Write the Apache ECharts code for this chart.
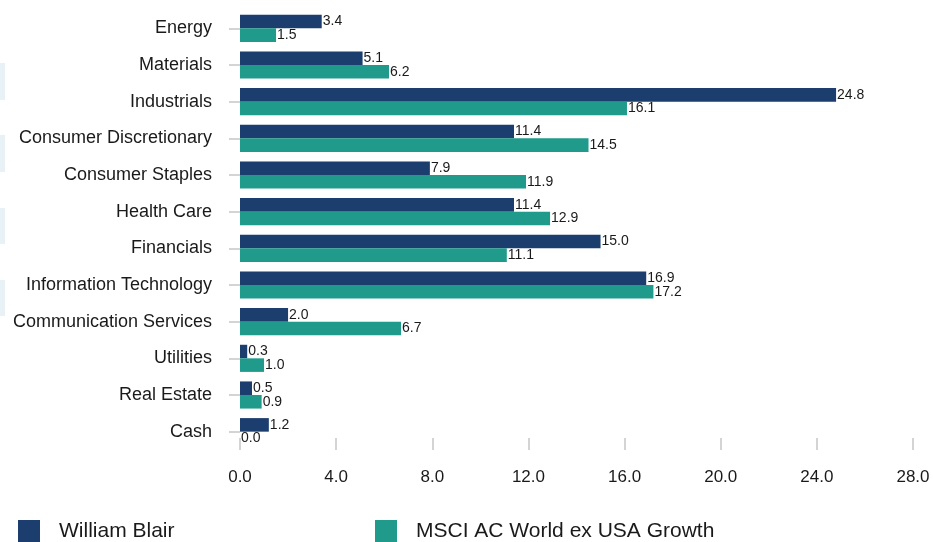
<!DOCTYPE html>
<html>
<head>
<meta charset="utf-8">
<script src="https://cdn.jsdelivr.net/npm/echarts@6/dist/echarts.min.js"></script>
<style>
html,body{margin:0;padding:0;background:#fff;}
#chart{width:933px;height:542px;}
</style>
</head>
<body>
<div id="chart"></div>
<script>
const categories = ['Energy','Materials','Industrials','Consumer Discretionary','Consumer Staples','Health Care','Financials','Information Technology','Communication Services','Utilities','Real Estate','Cash'];
const williamBlair = [3.4,5.1,24.8,11.4,7.9,11.4,15.0,16.9,2.0,0.3,0.5,1.2];
const msciGrowth = [1.5,6.2,16.1,14.5,11.9,12.9,11.1,17.2,6.7,1.0,0.9,0.0];
const seriesNames = ['William Blair','MSCI AC World ex USA Growth'];
const xMin = 0, xMax = 28, xStep = 4;

const FONT = "'Liberation Sans Narrow','Arial Narrow','Liberation Sans',Arial,sans-serif";
const BLUE = '#1b3e6f';
const TEAL = '#1f9a8b';

const chart = echarts.init(document.getElementById('chart'), null, {renderer:'canvas'});
const valueLabel = {
  show: true, position: 'right', distance: 1,
  color: '#1a1a1a', fontFamily: FONT, fontSize: 14,
  formatter: p => p.value.toFixed(1)
};
const legendText = {fontFamily:FONT, fontSize:21, color:'#1a1a1a', padding:[0,0,0,14]};
chart.setOption({
  animation: false,
  backgroundColor: '#fff',
  textStyle: {fontFamily: FONT},
  graphic: [
    {type:'rect', shape:{x:0,y:63,width:5,height:37}, style:{fill:'#e8f1f5'}},
    {type:'rect', shape:{x:0,y:135,width:5,height:37}, style:{fill:'#e8f1f5'}},
    {type:'rect', shape:{x:0,y:208,width:5,height:36}, style:{fill:'#e8f1f5'}},
    {type:'rect', shape:{x:0,y:280,width:5,height:36}, style:{fill:'#e8f1f5'}}
  ],
  legend: [
    {data:[seriesNames[0]], left:18, top:520, padding:0, itemWidth:22, itemHeight:22, icon:'rect', textStyle:legendText},
    {data:[seriesNames[1]], left:375, top:520, padding:0, itemWidth:22, itemHeight:22, icon:'rect', textStyle:legendText}
  ],
  grid: {left:240, right:20, top:10, bottom:92, outerBoundsMode:'none', containLabel:false},
  xAxis: {
    type:'value', min:xMin, max:xMax, interval:xStep,
    axisLine:{show:false},
    axisTick:{show:true, inside:true, length:12, lineStyle:{color:'#d4d4d4', width:2}},
    splitLine:{show:false},
    axisLabel:{margin:19, fontFamily:FONT, fontSize:17, color:'#1a1a1a', formatter: v => v.toFixed(1)}
  },
  yAxis: {
    type:'category', data:categories, inverse:true,
    axisLine:{show:false},
    axisTick:{show:true, alignWithLabel:true, length:11, lineStyle:{color:'#d4d4d4', width:2}},
    axisLabel:{margin:28, fontFamily:FONT, fontSize:18, color:'#1a1a1a'}
  },
  series: [
    {name:seriesNames[0], type:'bar', data:williamBlair, itemStyle:{color:BLUE},
     barGap:'0%', barCategoryGap:'26%', label:valueLabel},
    {name:seriesNames[1], type:'bar', data:msciGrowth, itemStyle:{color:TEAL},
     barGap:'0%', barCategoryGap:'26%', label:valueLabel}
  ]
});
</script>
</body>
</html>
